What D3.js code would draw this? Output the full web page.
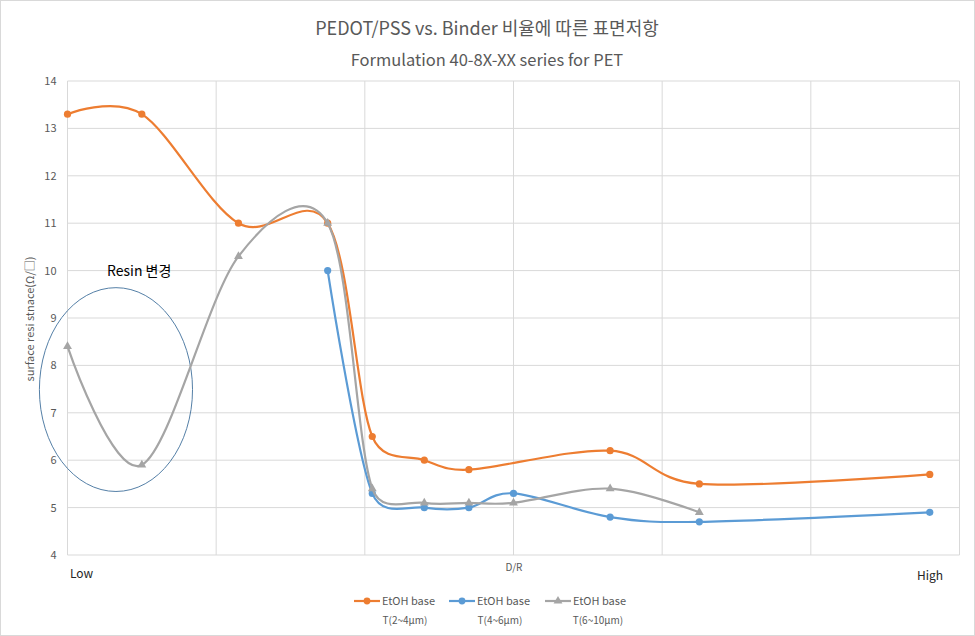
<!DOCTYPE html>
<html><head><meta charset="utf-8">
<script src="https://cdn.jsdelivr.net/npm/d3@7"></script>
<style>
body{margin:0;background:#fff;}
text{font-family:"Noto Sans CJK KR","Noto Sans",sans-serif;}
</style></head>
<body><svg id="c" width="975" height="636"></svg>
<script>
// ---- data ----
const titleLines = ["PEDOT/PSS vs. Binder 비율에 따른 표면저항", "Formulation 40-8X-XX series for PET"];
const yTicks = [4,5,6,7,8,9,10,11,12,13,14];
const xGrid = [0,1,2,3,4,5,6];
const seriesNames = ["EtOH base", "EtOH base", "EtOH base"];
const seriesSub = ["T(2~4μm)", "T(4~6μm)", "T(6~10μm)"];
const orangeX = [0, 0.5, 1.15, 1.75, 2.05, 2.4, 2.7, 3.65, 4.25, 5.8];
const orangeY = [13.3, 13.3, 11, 11, 6.5, 6.0, 5.8, 6.2, 5.5, 5.7];
const blueX = [1.75, 2.05, 2.4, 2.7, 3.0, 3.65, 4.25, 5.8];
const blueY = [10, 5.3, 5.0, 5.0, 5.3, 4.8, 4.7, 4.9];
const grayX = [0, 0.5, 1.15, 1.75, 2.05, 2.4, 2.7, 3.0, 3.65, 4.25];
const grayY = [8.4, 5.9, 10.3, 11, 5.4, 5.1, 5.1, 5.1, 5.4, 4.9];
const colors = ["#ED7D31", "#5B9BD5", "#A5A5A5"];
const markers = ["circle", "circle", "triangle"];
const annotation = {text: "Resin 변경", cx: 0.326, cy: 7.49, rx: 0.515, ry: 2.15};
const axisLabels = {low: "Low", high: "High", mid: "D/R", y: "surface resi stnace(Ω/□)"};

const series = [
  {x: orangeX, y: orangeY},
  {x: blueX, y: blueY},
  {x: grayX, y: grayY}
].map((s,i)=>({name: seriesNames[i], sub: seriesSub[i], color: colors[i], marker: markers[i],
  pts: s.x.map((v,j)=>[v, s.y[j]])}));

const svg = d3.select("#c");
svg.append("rect").attr("x",0.5).attr("y",0.5).attr("width",974).attr("height",635)
  .attr("fill","#fff").attr("stroke","#D9D9D9");

const x = d3.scaleLinear().domain([0,6]).range([67.5, 959.5]);
const y = d3.scaleLinear().domain([4,14]).range([555, 81]);

// grid
svg.append("g").selectAll("line").data(yTicks).join("line")
  .attr("x1", x(0)).attr("x2", x(6)).attr("y1", d=>y(d)).attr("y2", d=>y(d))
  .attr("stroke", "#D9D9D9").attr("stroke-width", 1);
svg.append("g").selectAll("line").data(xGrid).join("line")
  .attr("x1", d=>x(d)).attr("x2", d=>x(d)).attr("y1", y(4)).attr("y2", y(14))
  .attr("stroke", "#D9D9D9").attr("stroke-width", 1);

// y axis labels
const yAxis = d3.axisLeft(y).tickValues(yTicks).tickSize(0).tickPadding(11).tickFormat(d3.format("d"));
const gy = svg.append("g").attr("transform", `translate(${x(0)},0)`).call(yAxis);
gy.select(".domain").remove();
gy.selectAll("text").attr("fill","#595959").style("font-size","11px");

// y title
svg.append("text").attr("transform", `translate(34,319) rotate(-90)`)
  .attr("text-anchor","middle").attr("fill","#595959").style("font-size","11px")
  .text(axisLabels.y);

// titles
svg.append("text").attr("x",487).attr("y",35).attr("text-anchor","middle")
  .attr("fill","#595959").style("font-size","18px").text(titleLines[0]);
svg.append("text").attr("x",487).attr("y",66).attr("text-anchor","middle")
  .attr("fill","#595959").style("font-size","16.5px").text(titleLines[1]);

// x labels
svg.append("text").attr("x",70).attr("y",578).attr("fill","#262626").style("font-size","12px").text(axisLabels.low);
svg.append("text").attr("x",917).attr("y",580).attr("fill","#262626").style("font-size","12px").text(axisLabels.high);
svg.append("text").attr("x",514).attr("y",571).attr("text-anchor","middle").attr("fill","#595959").style("font-size","10px").text(axisLabels.mid);

// annotation
svg.append("ellipse").attr("cx", x(annotation.cx)).attr("cy", y(annotation.cy))
  .attr("rx", x(annotation.rx)-x(0)).attr("ry", y(0)-y(annotation.ry))
  .attr("fill","none").attr("stroke","#41719C").attr("stroke-width",0.9);
svg.append("text").attr("x",107).attr("y",276).attr("fill","#000").style("font-size","14px").text(annotation.text);

// Excel-like smoothed line: tangent (P[i+1]-P[i-1])/6, limited to half the adjacent segment
function smoothPath(pts) {
  const P = pts.map(d=>[x(d[0]), y(d[1])]);
  const n = P.length, p = d3.path();
  const T = P.map((pt,i)=> (i===0||i===n-1) ? [0,0] : [(P[i+1][0]-P[i-1][0])/6, (P[i+1][1]-P[i-1][1])/6]);
  const len = v => Math.hypot(v[0], v[1]);
  p.moveTo(P[0][0], P[0][1]);
  for (let i=0;i<n-1;i++){
    const d = len([P[i+1][0]-P[i][0], P[i+1][1]-P[i][1]]);
    const t1 = T[i], t2 = T[i+1];
    const s1 = len(t1) > d/2 ? (d/2)/len(t1) : 1;
    const s2 = len(t2) > d/2 ? (d/2)/len(t2) : 1;
    p.bezierCurveTo(P[i][0]+t1[0]*s1, P[i][1]+t1[1]*s1,
                    P[i+1][0]-t2[0]*s2, P[i+1][1]-t2[1]*s2,
                    P[i+1][0], P[i+1][1]);
  }
  return p.toString();
}
const tri = d3.symbol().type(d3.symbolTriangle).size(34);
series.forEach(s=>{
  svg.append("path").attr("d", smoothPath(s.pts)).attr("fill","none")
    .attr("stroke", s.color).attr("stroke-width", 2.2).attr("stroke-linecap","round");
  const g = svg.append("g");
  if (s.marker === "circle") {
    g.selectAll("circle").data(s.pts).join("circle")
      .attr("cx", d=>x(d[0])).attr("cy", d=>y(d[1])).attr("r", 3.6).attr("fill", s.color);
  } else {
    g.selectAll("path").data(s.pts).join("path").attr("d", tri)
      .attr("transform", d=>`translate(${x(d[0])},${y(d[1])})`).attr("fill", s.color);
  }
});

// legend
const legX = [354, 449, 545];
const subX = [405, 500, 598];
series.forEach((s,i)=>{
  const g = svg.append("g").attr("transform", `translate(${legX[i]},601)`);
  g.append("line").attr("x1",0).attr("x2",26).attr("y1",0).attr("y2",0).attr("stroke",s.color).attr("stroke-width",2.2);
  if (s.marker === "circle") g.append("circle").attr("cx",13).attr("cy",0).attr("r",3.4).attr("fill",s.color);
  else g.append("path").attr("d",tri).attr("transform","translate(13,0)").attr("fill",s.color);
  g.append("text").attr("x", 28).attr("y",4).attr("fill","#595959").style("font-size","11px").text(s.name);
  svg.append("text").attr("x", subX[i]).attr("y",624).attr("text-anchor","middle").attr("fill","#595959").style("font-size","10px").text(s.sub);
});
</script></body></html>
